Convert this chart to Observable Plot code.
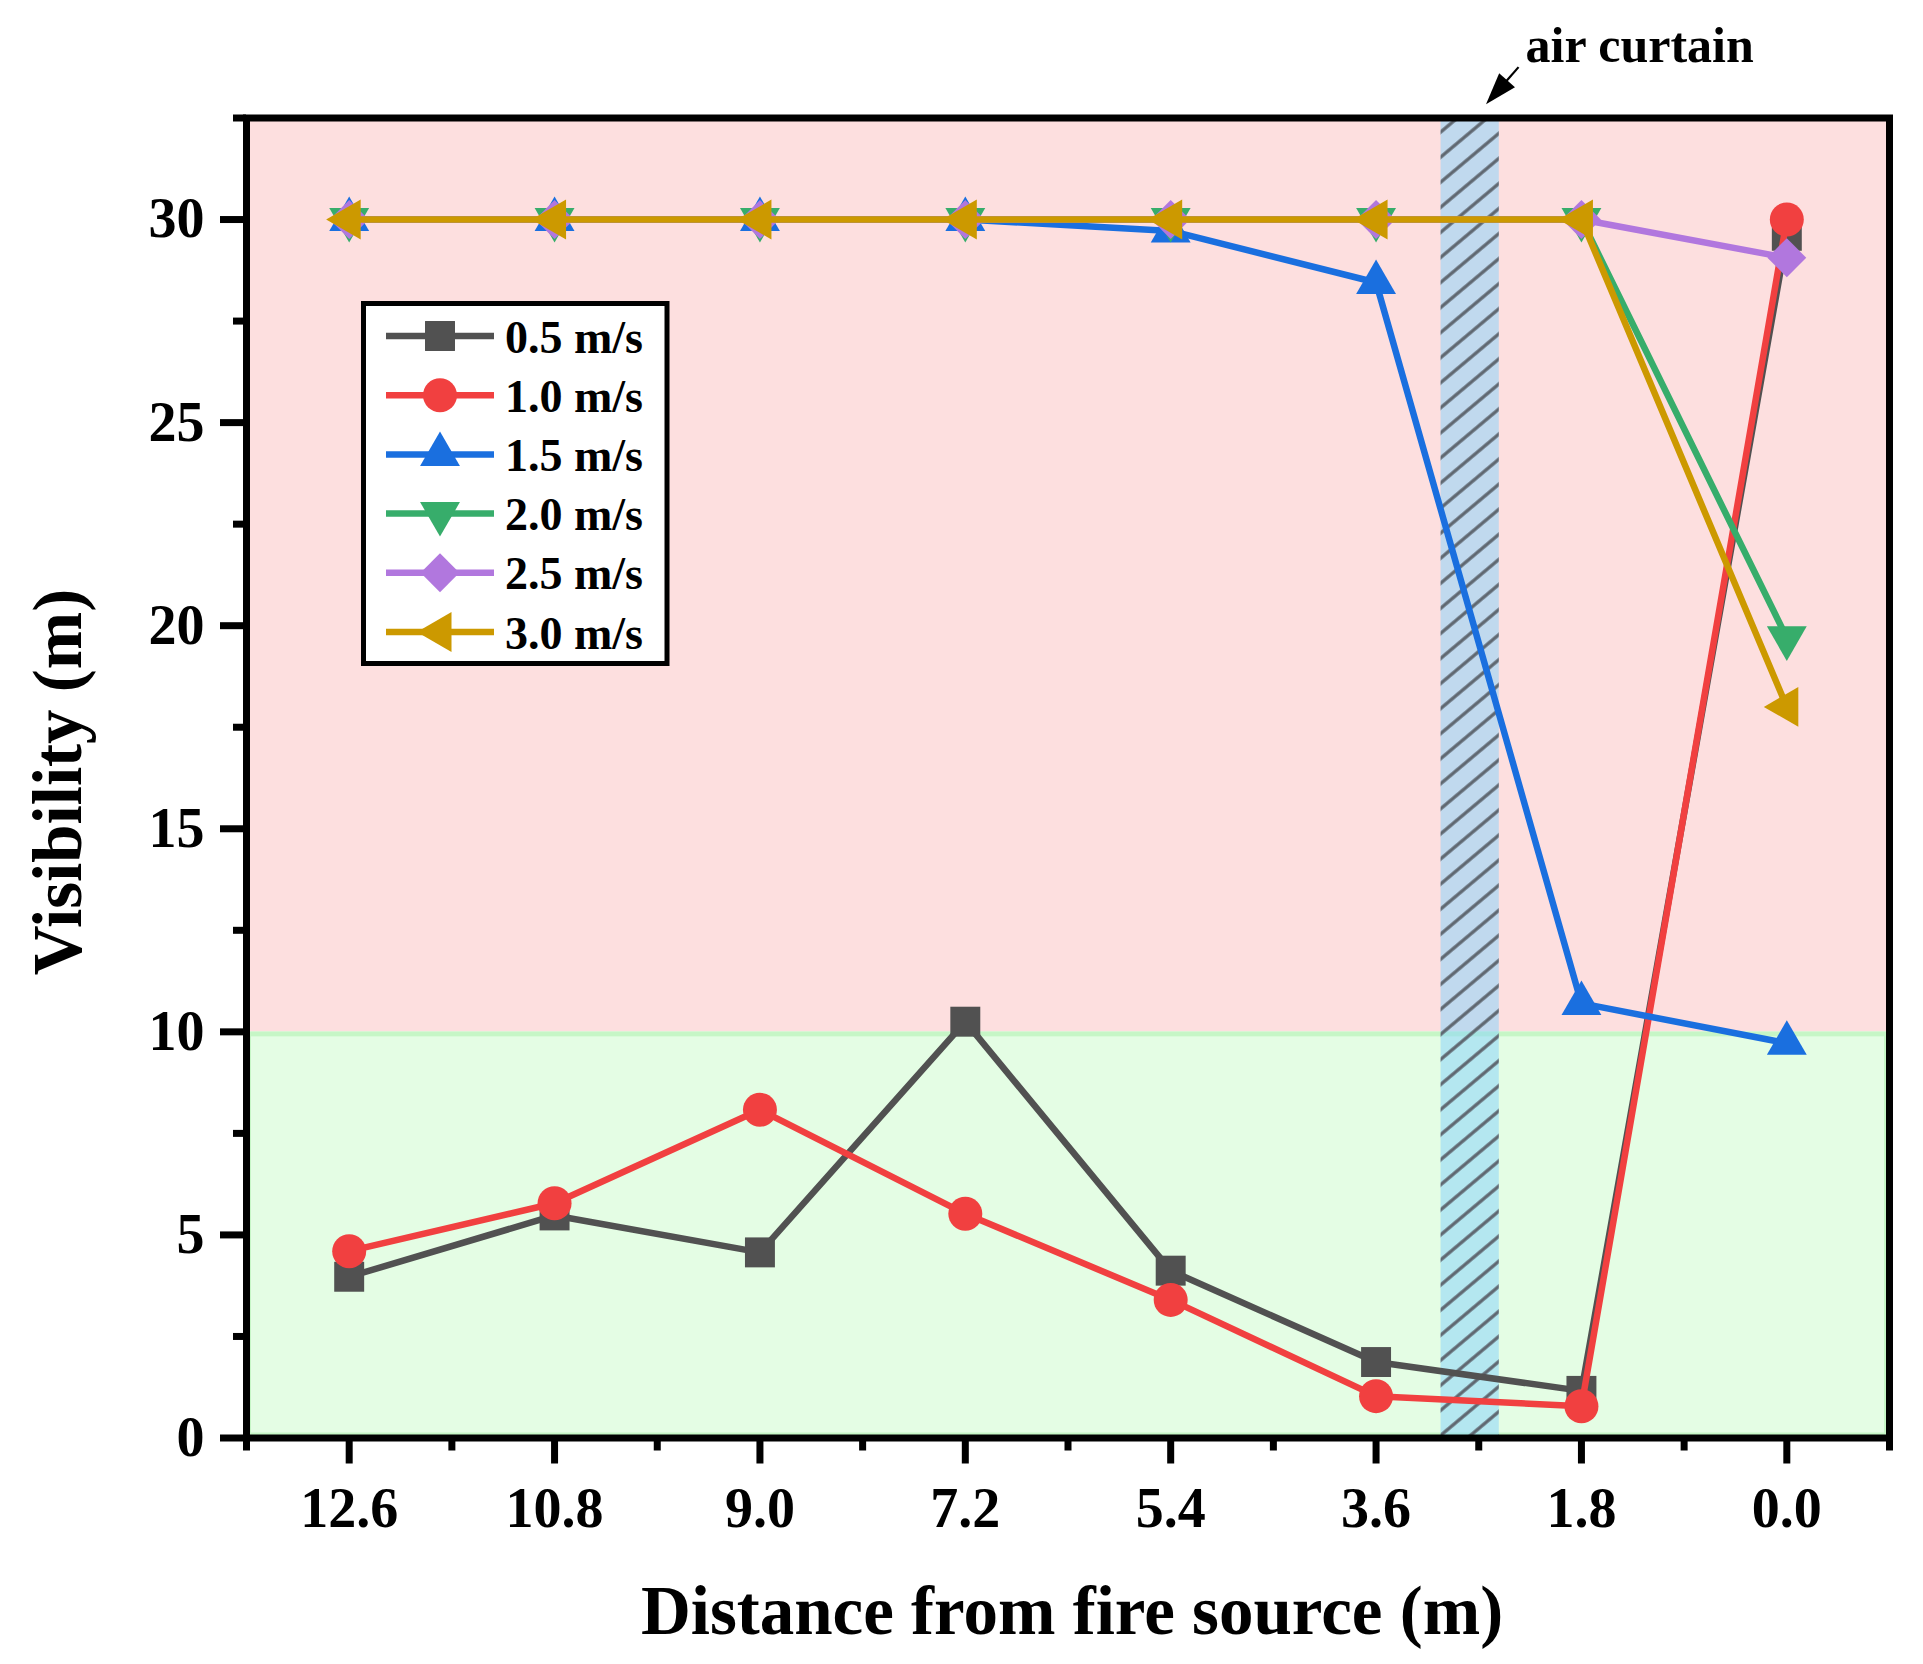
<!DOCTYPE html>
<html><head><meta charset="utf-8">
<script src="https://cdn.jsdelivr.net/npm/d3@7"></script>
<script src="https://cdn.jsdelivr.net/npm/@observablehq/plot@0.6"></script>
<style>html,body{margin:0;padding:0;background:#fff;} #chart svg{display:block;}</style>
</head><body><div id="chart"></div>
<script>
// ---- data ----
const distances = [12.6, 10.8, 9.0, 7.2, 5.4, 3.6, 1.8, 0.0];
const seriesNames = ["0.5 m/s", "1.0 m/s", "1.5 m/s", "2.0 m/s", "2.5 m/s", "3.0 m/s"];
const v05 = [3.97, 5.48, 4.57, 10.25, 4.12, 1.87, 1.16, 29.6];
const v10 = [4.6, 5.78, 8.08, 5.52, 3.4, 1.03, 0.78, 30.0];
const v15 = [30, 30, 30, 30, 29.72, 28.45, 10.7, 9.72];
const v20 = [30, 30, 30, 30, 30, 30, 30, 19.7];
const v25 = [30, 30, 30, 30, 30, 30, 30, 29.06];
const v30 = [30, 30, 30, 30, 30, 30, 30, 18.0];
const seriesValues = [v05, v10, v15, v20, v25, v30];
const seriesColors = ["#515151", "#f14040", "#1a6fdf", "#37ad6b", "#b177de", "#cc9900"];
const xTicks = [12.6, 10.8, 9.0, 7.2, 5.4, 3.6, 1.8, 0.0];
const xMinorTicks = [13.5, 11.7, 9.9, 8.1, 6.3, 4.5, 2.7, 0.9, -0.9];
const yTicks = [0, 5, 10, 15, 20, 25, 30];
const yMinorTicks = [2.5, 7.5, 12.5, 17.5, 22.5, 27.5, 32.5];
const safeZone = [0, 10];        // visibility band (m)
const dangerZone = [10, 32.5];
const airCurtain = [2.52, 3.03]; // distance band (m)
const xLabel = "Distance from fire source (m)";
const yLabel = "Visibility (m)";
const annotation = "air curtain";

// ---- styles ----
const FONT = "'Liberation Serif', 'Times New Roman', serif";
const symbolSpec = [
  {plot: "square", d3: d3.symbolSquare, r: 16.9, rotate: 0},
  {plot: "circle", d3: d3.symbolCircle, r: 17, rotate: 0},
  {plot: "triangle", d3: d3.symbolTriangle, r: 14.8, rotate: 0},
  {plot: "triangle", d3: d3.symbolTriangle, r: 14.8, rotate: 180},
  {plot: "diamond2", d3: d3.symbolDiamond2, r: 17.5, rotate: 0},
  {plot: "triangle", d3: d3.symbolTriangle, r: 14.8, rotate: -90}
];

const defsMark = () => {
  const defs = d3.create("svg:defs");
  const p = defs.append("pattern").attr("id", "airHatch")
    .attr("patternUnits", "userSpaceOnUse").attr("width", 20).attr("height", 19.2)
    .attr("patternTransform", "rotate(-40)");
  p.append("line").attr("x1", -2).attr("x2", 22).attr("y1", 9.6).attr("y2", 9.6)
    .attr("stroke", "#5f6770").attr("stroke-width", 3.3);
  return defs.node();
};

const legendMark = () => {
  const g = d3.create("svg:g");
  g.append("rect").attr("x", 363.5).attr("y", 303.5).attr("width", 303.5).attr("height", 360)
    .attr("fill", "white").attr("stroke", "black").attr("stroke-width", 5);
  seriesNames.forEach((name, i) => {
    const cy = 336 + i * 59.2;
    g.append("line").attr("x1", 386).attr("x2", 494).attr("y1", cy).attr("y2", cy)
      .attr("stroke", seriesColors[i]).attr("stroke-width", 6.5);
    const s = symbolSpec[i];
    g.append("path").attr("d", d3.symbol(s.d3, s.r * s.r * Math.PI)())
      .attr("transform", `translate(440,${cy}) rotate(${s.rotate})`)
      .attr("fill", seriesColors[i]);
    g.append("text").attr("x", 505).attr("y", cy + 16.5).text(name)
      .attr("text-anchor", "start")
      .attr("font-size", 46).attr("font-weight", "bold").attr("font-family", FONT).attr("fill", "black");
  });
  return g.node();
};

const arrowMark = (index, scales) => {
  const sx = scales.x, sy = scales.y;
  const x0 = sx(2.347), y0 = sy(33.74), x1 = sx(2.632), y1 = sy(32.825);
  const dx = x1 - x0, dy = y1 - y0, len = Math.hypot(dx, dy);
  const ux = dx / len, uy = dy / len, hl = 32, hw = 10.5;
  const bx = x1 - ux * hl, by = y1 - uy * hl;
  const g = d3.create("svg:g");
  g.append("line").attr("x1", x0).attr("y1", y0).attr("x2", bx + ux * 2).attr("y2", by + uy * 2)
    .attr("stroke", "black").attr("stroke-width", 2.2);
  g.append("path").attr("d", `M${x1},${y1}L${bx - uy * hw},${by + ux * hw}L${bx + uy * hw},${by - ux * hw}Z`)
    .attr("fill", "black");
  return g.node();
};

const marks = [
  defsMark,
  Plot.rect([{y1: dangerZone[0], y2: dangerZone[1]}], {y1: "y1", y2: "y2", fill: "#fddfdf"}),
  Plot.rect([{y1: safeZone[0], y2: safeZone[1]}], {y1: "y1", y2: "y2", fill: "#e4fde4", stroke: "#c6f6c6", strokeWidth: 5, inset: 2.5}),
  Plot.rect([{x1: airCurtain[0], x2: airCurtain[1]}], {x1: "x1", x2: "x2", fill: "rgb(136,210,252)", fillOpacity: 0.52}),
  Plot.rect([{x1: airCurtain[0], x2: airCurtain[1]}], {x1: "x1", x2: "x2", fill: "url(#airHatch)"})
];

seriesNames.forEach((name, i) => {
  const rows = distances.map((d, j) => ({x: d, y: seriesValues[i][j], series: name}));
  const s = symbolSpec[i];
  marks.push(Plot.line(rows, {x: "x", y: "y", stroke: seriesColors[i], strokeWidth: 6.5, strokeLinejoin: "miter", strokeLinecap: "butt"}));
  marks.push(Plot.dot(rows, {x: "x", y: "y", symbol: s.plot, r: s.r, fill: seriesColors[i], stroke: "none", rotate: s.rotate}));
});

marks.push(
  Plot.frame({stroke: "black", strokeWidth: 7}),
  Plot.axisX({ticks: xTicks, tickSize: 26, tickPadding: 23, strokeWidth: 7, tickFormat: d => d.toFixed(1), fontSize: 56, fontWeight: "bold", label: null}),
  Plot.axisX({ticks: xMinorTicks, tickSize: 13, strokeWidth: 7, tickFormat: () => "", label: null}),
  Plot.axisY({ticks: yTicks, tickSize: 26, tickPadding: 16, strokeWidth: 7, tickFormat: d => String(d), fontSize: 56, fontWeight: "bold", label: null}),
  Plot.axisY({ticks: yMinorTicks, tickSize: 13, strokeWidth: 7, tickFormat: () => "", label: null}),
  Plot.text([xLabel], {frameAnchor: "bottom", textAnchor: "middle", dy: 195.5, dx: 4, lineAnchor: "bottom", fontSize: 69, fontWeight: "bold"}),
  Plot.text([yLabel], {frameAnchor: "left", textAnchor: "middle", rotate: -90, dx: -166, dy: 4, lineAnchor: "bottom", fontSize: 69, fontWeight: "bold"}),
  Plot.text([{x: 2.29, y: 33.87, label: annotation}], {x: "x", y: "y", text: "label", textAnchor: "start", lineAnchor: "bottom", fontSize: 50, fontWeight: "bold"}),
  arrowMark,
  legendMark
);

const chart = Plot.plot({
  width: 1923, height: 1664,
  marginLeft: 246, marginRight: 34, marginTop: 117.5, marginBottom: 226.5,
  x: {domain: [13.5, -0.9]},
  y: {domain: [0, 32.5]},
  style: {fontFamily: FONT, fontWeight: "bold", fontSize: "56px", background: "white", color: "black", overflow: "visible"},
  marks
});
document.getElementById("chart").appendChild(chart);
</script>
</body></html>
